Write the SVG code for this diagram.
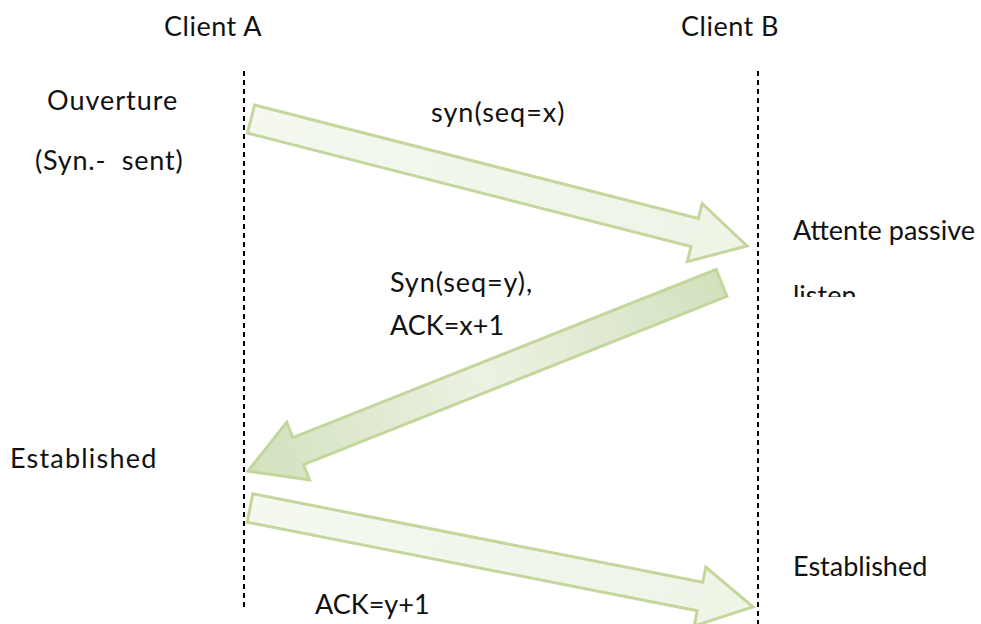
<svg xmlns="http://www.w3.org/2000/svg" width="981" height="624" viewBox="0 0 981 624">
  <style>
    .lbl { font-family: Lato, "Open Sans", sans-serif; font-size: 27px; fill: #111; white-space: pre; }
    .life { stroke: #000; stroke-width: 2; stroke-dasharray: 5 4; fill: none; }
    .msg { stroke: #c3d69b; stroke-width: 3; stroke-linejoin: miter; }
  </style>
  <defs>
    <linearGradient id="pale" x1="0" y1="0" x2="1" y2="0">
      <stop offset="0" stop-color="#f4f8ef"/>
      <stop offset="1" stop-color="#eef4e6"/>
    </linearGradient>
    <linearGradient id="deep" x1="0" y1="0" x2="1" y2="0">
      <stop offset="0" stop-color="#d2e1bd"/>
      <stop offset="0.5" stop-color="#ecf2e4"/>
      <stop offset="1" stop-color="#d2e1bd"/>
    </linearGradient>
    <clipPath id="cut">
      <rect x="780" y="270" width="200" height="27"/>
    </clipPath>
  </defs>

  <g id="lifelines">
    <line id="lifeline-a" class="life" x1="244" y1="71" x2="244" y2="610"/>
    <line id="lifeline-b" class="life" x1="758" y1="71" x2="758" y2="624"/>
  </g>

  <g id="client-a"><text class="lbl" x="164" y="36" letter-spacing="0.5">Client A</text></g>
  <g id="client-b"><text class="lbl" x="681" y="36" letter-spacing="0.5">Client B</text></g>

  <g id="state-a-open">
    <text class="lbl" x="47" y="110" letter-spacing="1">Ouverture</text>
    <text class="lbl" x="35" y="170" letter-spacing="0.8" xml:space="preserve">(Syn.-  sent)</text>
  </g>
  <g id="state-b-listen">
    <text class="lbl" x="793" y="240">Attente passive</text>
    <text class="lbl" x="793" y="305" clip-path="url(#cut)">listen</text>
  </g>
  <g id="state-a-est"><text class="lbl" x="10" y="468" letter-spacing="1.2">Established</text></g>
  <g id="state-b-est"><text class="lbl" x="793" y="576">Established</text></g>

  <g id="connectors">
    <!-- each arrow: tail centre at origin, pointing along +x -->
    <g id="syn" transform="translate(251 119) rotate(14.36)">
      <polygon class="msg" fill="url(#pale)" points="0,-14.5 458,-14.5 458,-30 512,0 458,30 458,14.5 0,14.5"/>
    </g>
    <g id="syn-ack" transform="translate(721.5 283) rotate(158.34)">
      <polygon class="msg" fill="url(#deep)" points="0,-14.5 455.5,-14.5 455.5,-31 509.5,0 455.5,31 455.5,14.5 0,14.5"/>
    </g>
    <g id="ack" transform="translate(250 508) rotate(11.13)">
      <polygon class="msg" fill="url(#pale)" points="0,-14.5 458.6,-14.5 458.6,-30 512.6,0 458.6,30 458.6,14.5 0,14.5"/>
    </g>
    <text class="lbl" x="431" y="122" letter-spacing="1">syn(seq=x)</text>
    <text class="lbl" x="390" y="292" letter-spacing="0.9">Syn(seq=y),</text>
    <text class="lbl" x="390" y="335">ACK=x+1</text>
    <text class="lbl" x="315" y="614">ACK=y+1</text>
  </g>
</svg>
